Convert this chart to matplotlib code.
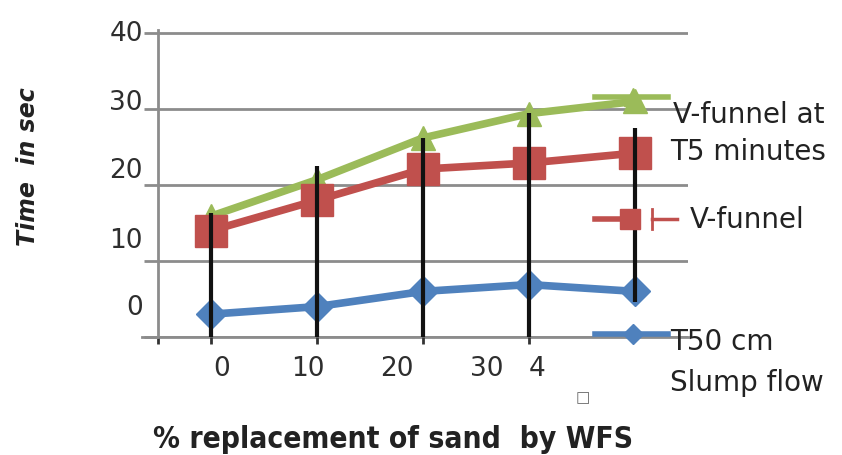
import matplotlib.pyplot as plt
from matplotlib.lines import Line2D

# categories (0..4) and the series
cats = [0, 1, 2, 3, 4]
v_funnel_t5 = [15.9, 20.7, 26.2, 29.4, 31.0]
v_funnel = [14.0, 18.0, 22.1, 22.9, 24.2]
t50_slump = [3.0, 4.0, 6.0, 6.9, 6.0]

# black drop lines (low / high)
drop_low = [0, 0, 0, 0, 4.6]
drop_high = [16.3, 22.5, 26.2, 29.5, 27.5]

# tick labels as they sit in the picture (shifted from the grid)
ytick_labels = ['40', '30', '20', '10', '0']
ytick_pos = [40.4, 31.3, 22.4, 13.2, 4.3]
xtick_labels = ['0', '10', '20', '30', '4']
xtick_pos = [0.10, 0.91, 1.75, 2.60, 3.08]

green = '#9BBB59'
red = '#C0504D'
blue = '#4F81BD'
grey = '#8C8C8C'

W, H = 842, 456
fig = plt.figure(figsize=(W / 100, H / 100), dpi=100)
ax = fig.add_axes([158 / W, 1 - 338 / H, 530 / W, 307 / H])


def fx(x, y):
    return x / W, 1 - y / H


ax.plot(cats, v_funnel_t5, color=green, lw=5.5, marker='^', ms=17, zorder=3)
ax.plot(cats, v_funnel, color=red, lw=5.5, marker='s', ms=23, zorder=4)
ax.plot(cats, t50_slump, color=blue, lw=5.5, marker='D', ms=15, zorder=4)
ax.vlines(cats, drop_low, drop_high, color='#111111', lw=3, zorder=5)

ax.set_xlim(-0.5, 4.5)
ax.set_ylim(0, 40)

for s in ['top', 'right', 'bottom']:
    ax.spines[s].set_visible(False)
ax.spines['left'].set_color(grey)
ax.spines['left'].set_linewidth(2)

ax.set_yticks([0, 10, 20, 30, 40])
ax.set_yticklabels([])
ax.tick_params(axis='y', which='major', length=10, width=2, color=grey)
ax.grid(axis='y', color=grey, lw=2, zorder=0)
ax.set_yticks(ytick_pos, ytick_labels, minor=True)
ax.tick_params(axis='y', which='minor', length=0, pad=11, labelsize=19,
               labelcolor='#2e2e2e')

ax.set_xticks([-0.5, 0, 1, 2, 3])
ax.set_xticklabels([])
ax.tick_params(axis='x', which='major', length=5, width=2, color='#333333')
ax.set_xticks(xtick_pos, xtick_labels, minor=True)
ax.tick_params(axis='x', which='minor', length=0, pad=13, labelsize=19,
               labelcolor='#2e2e2e')
ax.axhline(0, color=grey, lw=2, xmin=-0.03, clip_on=False, zorder=1)

# axis titles
fig.text(*fx(28, 167), 'Time  in sec', rotation=90, ha='center', va='center',
         fontsize=17, fontweight='bold', fontstyle='italic', color='#222222')
fig.text(*fx(393, 440), '% replacement of sand  by WFS', ha='center',
         va='center', fontsize=21.5, fontweight='bold', color='#222222',
         fontstretch='condensed')
fig.text(*fx(583, 398), '\u25a1', ha='center', va='center', fontsize=11,
         color='#666666')

# legend drawn by hand, as in the picture
txt = dict(fontsize=20, color='#222222', va='center', ha='left')
fig.add_artist(Line2D([595 / W, 668 / W], [1 - 98 / H] * 2, color=green, lw=4))
fig.add_artist(Line2D([633 / W], [1 - 98 / H], color=green, marker='^', ms=13))
fig.text(*fx(673, 115), 'V-funnel at', **txt)
fig.text(*fx(670, 152), 'T5 minutes', **txt)

fig.add_artist(Line2D([595 / W, 625 / W], [1 - 220 / H] * 2, color=red, lw=4))
fig.add_artist(Line2D([630 / W], [1 - 220 / H], color=red, marker='s', ms=14))
fig.add_artist(Line2D([652 / W, 677 / W], [1 - 220 / H] * 2, color=red, lw=2.5))
fig.add_artist(Line2D([652 / W] * 2, [1 - 210 / H, 1 - 230 / H], color=red, lw=2))
fig.text(*fx(690, 220), 'V-funnel', **txt)

fig.add_artist(Line2D([595 / W, 668 / W], [1 - 335 / H] * 2, color=blue, lw=4))
fig.add_artist(Line2D([633 / W], [1 - 335 / H], color=blue, marker='D', ms=10))
fig.text(*fx(670, 342), 'T50 cm', **txt)
fig.text(*fx(670, 383), 'Slump flow', **txt)

fig.savefig('out.png', dpi=100)
